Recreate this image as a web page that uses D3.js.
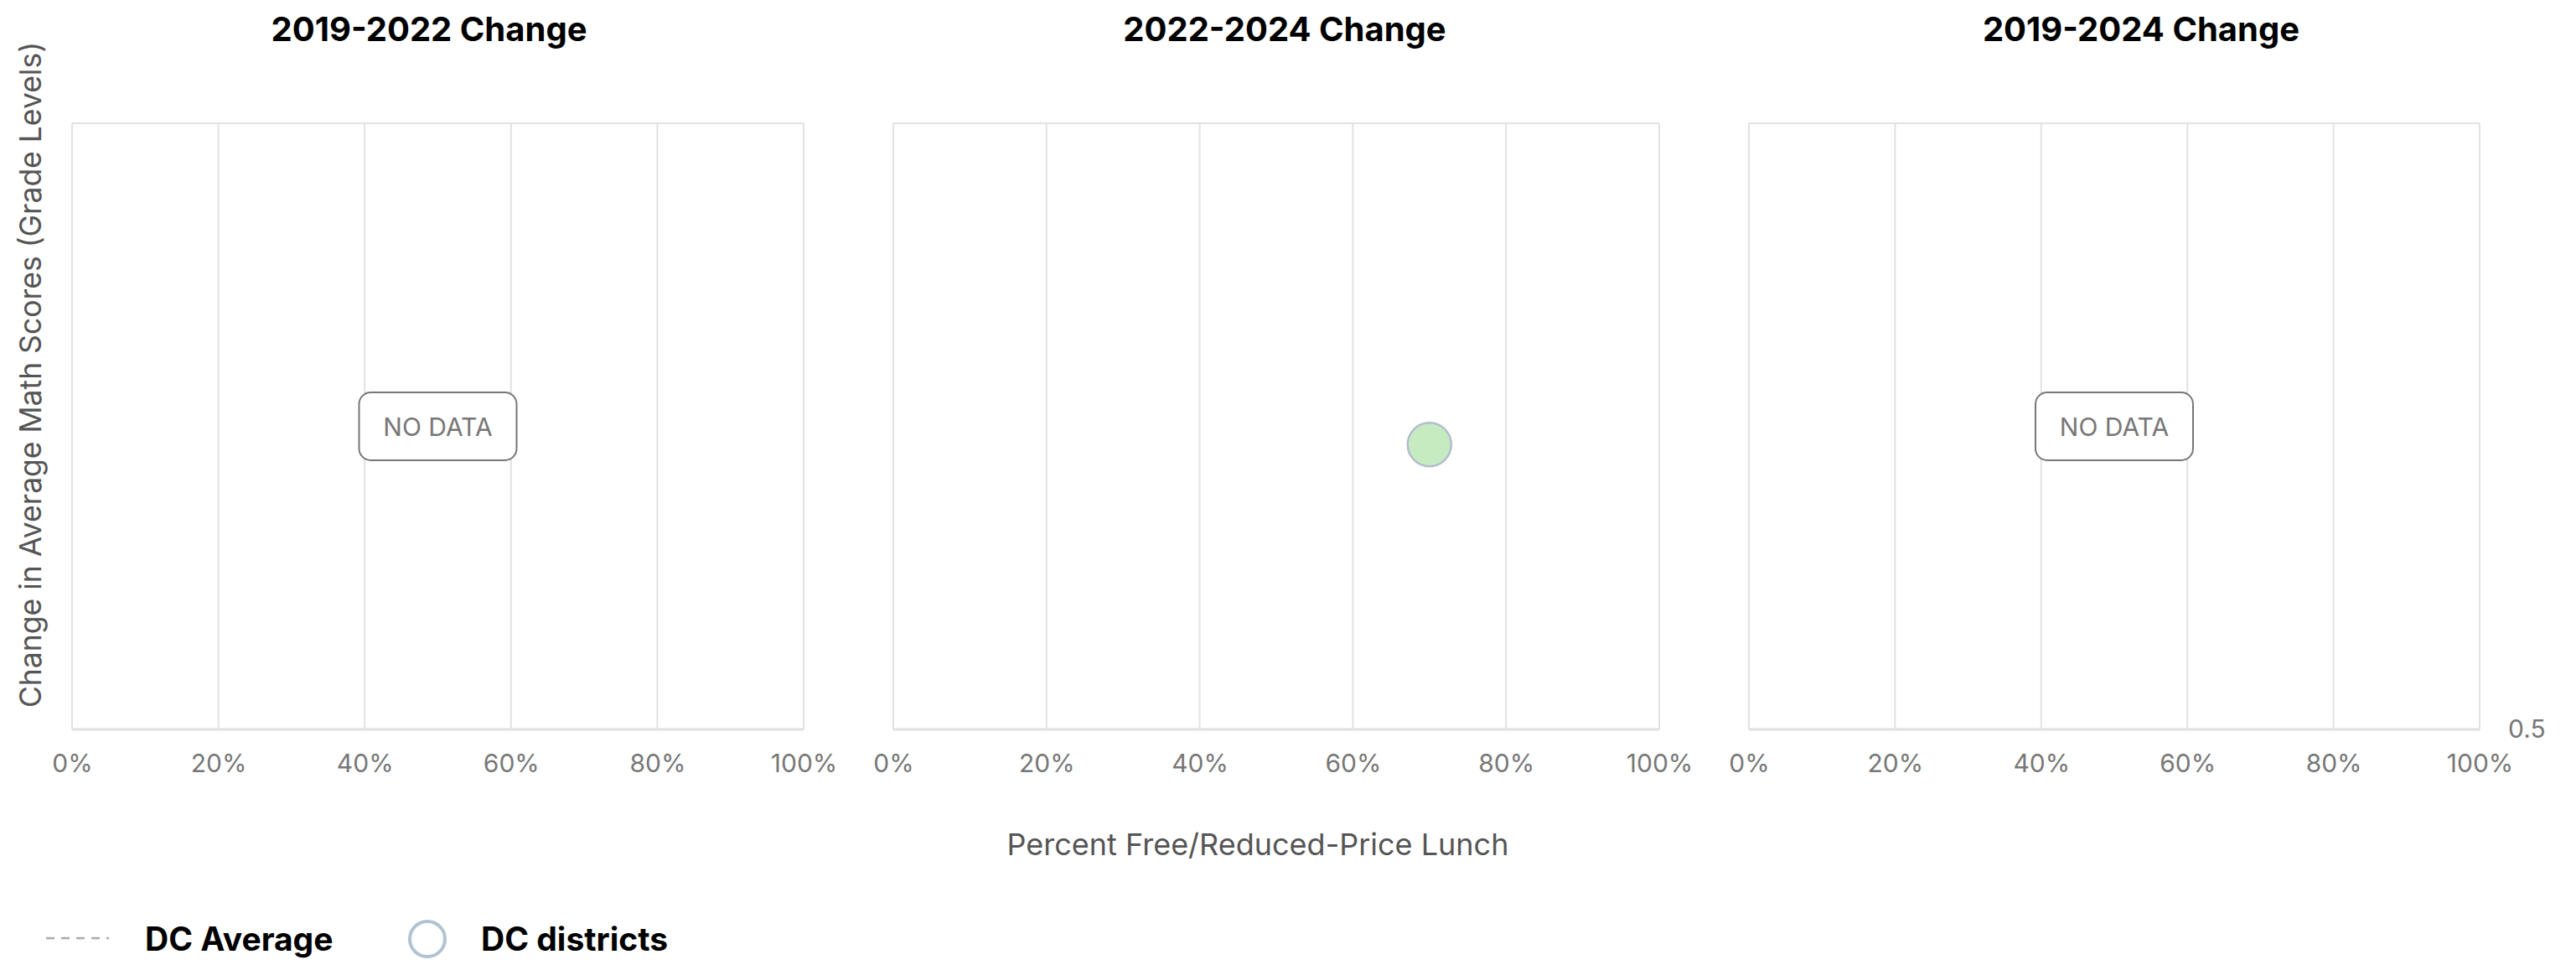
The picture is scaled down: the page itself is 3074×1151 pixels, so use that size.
<!DOCTYPE html>
<html>
<head>
<meta charset="utf-8">
<script src="https://cdn.jsdelivr.net/npm/d3@7"></script>
<style>
  html, body { margin: 0; padding: 0; background: #fff; }
  svg { display: block; font-family: Inter, "Noto Sans", sans-serif; }
</style>
</head>
<body>
<script>
// ---- data ----
const panelTitles = ["2019-2022 Change", "2022-2024 Change", "2019-2024 Change"];
const panelHasData = [false, true, false];
const xTickValues = [0, 20, 40, 60, 80, 100];
const yTickValues = [0.5];
const yDomain = [0.5, 1.5];
const districtPanel = [1];          // panel index of each district point
const districtFRL = [70];           // percent free/reduced-price lunch
const districtChange = [0.97];      // change in average math score (grade levels)
const legendItems = ["DC Average", "DC districts"];
const xAxisTitle = "Percent Free/Reduced-Price Lunch";
const yAxisTitle = "Change in Average Math Scores (Grade Levels)";

// ---- layout ----
const W = 3074, H = 1151;
const plotTop = 147, plotBottom = 870;
const panelX = [[86, 959], [1066, 1980], [2087, 2959]];
const titleX = [512, 1533, 2555];

const svg = d3.select("body").append("svg").attr("width", W).attr("height", H);

const y = d3.scaleLinear().domain(yDomain).range([plotBottom, plotTop]);

panelTitles.forEach((title, i) => {
  const [x0, x1] = panelX[i];
  const x = d3.scaleLinear().domain([0, 100]).range([x0, x1]);
  const g = svg.append("g");

  // vertical gridlines
  g.selectAll("line.grid").data(xTickValues).enter().append("line")
    .attr("x1", d => x(d)).attr("x2", d => x(d))
    .attr("y1", plotTop).attr("y2", plotBottom)
    .attr("stroke", "#e2e2e2").attr("stroke-width", 2);
  // frame top/bottom
  g.append("line").attr("x1", x0).attr("x2", x1).attr("y1", plotTop).attr("y2", plotTop)
    .attr("stroke", "#e2e2e2").attr("stroke-width", 2);
  g.append("line").attr("x1", x0).attr("x2", x1).attr("y1", plotBottom).attr("y2", plotBottom)
    .attr("stroke", "#e0e0e0").attr("stroke-width", 3);

  // x axis labels
  const ax = d3.axisBottom(x).tickValues(xTickValues).tickFormat(d => d + "%").tickSize(0).tickPadding(30);
  const axg = svg.append("g").attr("transform", `translate(0,${plotBottom})`).call(ax);
  axg.select(".domain").remove();
  axg.selectAll("text").attr("font-size", 30).attr("fill", "#777").attr("font-family", "Inter");

  // title
  svg.append("text").attr("x", titleX[i]).attr("y", 49)
    .attr("text-anchor", "middle").attr("font-size", 40).attr("font-weight", 700)
    .attr("fill", "#000").text(title);

  if (!panelHasData[i]) {
    const cx = (x0 + x1) / 2, cy = (plotTop + plotBottom) / 2;
    const bw = 188, bh = 81;
    svg.append("rect").attr("x", cx - bw / 2).attr("y", cy - bh / 2)
      .attr("width", bw).attr("height", bh).attr("rx", 14)
      .attr("fill", "#fff").attr("stroke", "#777").attr("stroke-width", 2);
    svg.append("text").attr("x", cx).attr("y", cy + 11)
      .attr("text-anchor", "middle").attr("font-size", 30).attr("fill", "#777")
      .text("NO DATA");
  }

  // points
  const pts = districtPanel.map((p, k) => ({ p, fx: districtFRL[k], fy: districtChange[k] }))
    .filter(d => d.p === i);
  svg.selectAll(null).data(pts).enter().append("circle")
    .attr("cx", d => x(d.fx)).attr("cy", d => y(d.fy)).attr("r", 26)
    .attr("fill", "#c7ebc0").attr("stroke", "#b2bdcf").attr("stroke-width", 2.5);

  if (i === panelTitles.length - 1) {
    const ay = d3.axisRight(y).tickValues(yTickValues).tickFormat(d3.format(".1f")).tickSize(0).tickPadding(34);
    const ayg = svg.append("g").attr("transform", `translate(${x1},0)`).call(ay);
    ayg.select(".domain").remove();
    ayg.selectAll("text").attr("font-size", 30).attr("fill", "#777").attr("font-family", "Inter");
  }
});

// axis titles
svg.append("text").attr("x", 1501).attr("y", 1020).attr("text-anchor", "middle")
  .attr("font-size", 36).attr("fill", "#555").text(xAxisTitle);
svg.append("text").attr("transform", "translate(49,447) rotate(-90)")
  .attr("text-anchor", "middle").attr("font-size", 35.5).attr("fill", "#555").text(yAxisTitle);

// legend
const lg = svg.append("g");
lg.append("line").attr("x1", 55).attr("x2", 130).attr("y1", 1119).attr("y2", 1119)
  .attr("stroke", "#aaa").attr("stroke-width", 2.5).attr("stroke-dasharray", "10,8");
lg.append("text").attr("x", 173).attr("y", 1134).attr("font-size", 39).attr("font-weight", 700)
  .attr("fill", "#000").text(legendItems[0]);
lg.append("circle").attr("cx", 510).attr("cy", 1120).attr("r", 21)
  .attr("fill", "none").attr("stroke", "#b0c3d3").attr("stroke-width", 4);
lg.append("text").attr("x", 574).attr("y", 1134).attr("font-size", 39).attr("font-weight", 700)
  .attr("fill", "#000").text(legendItems[1]);
</script>
</body>
</html>
